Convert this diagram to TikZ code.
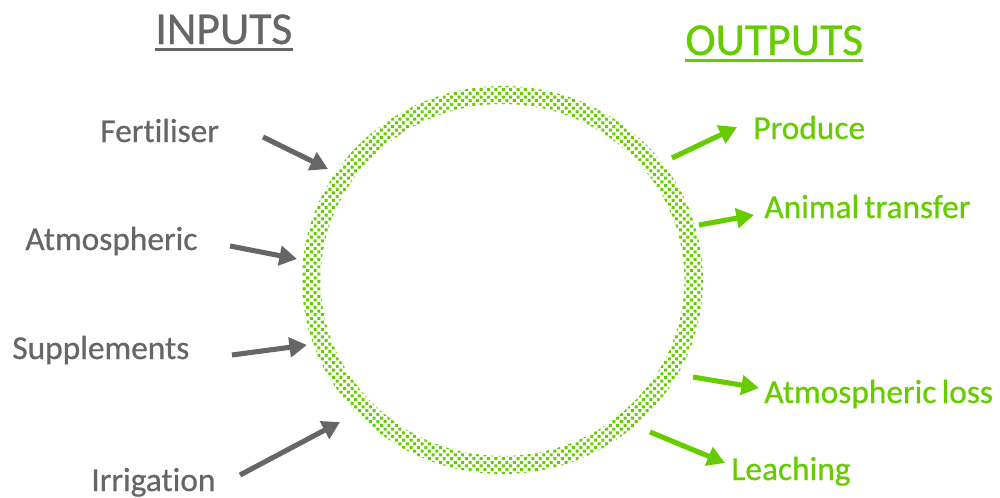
\documentclass[tikz,border=0pt]{standalone}
\usepackage{fontspec}
\setmainfont{Carlito}[FakeBold=0.6,BoldFont=Carlito,Ligatures=NoCommon]
\usetikzlibrary{arrows.meta,patterns}
\definecolor{ingray}{HTML}{666666}
\definecolor{outgreen}{HTML}{66CC00}
\pgfdeclarepatternformonly{ringdots}{\pgfqpoint{-1pt}{-1pt}}{\pgfqpoint{5pt}{5pt}}{\pgfqpoint{4.2pt}{4.2pt}}{%
  \pgfpathrectangle{\pgfqpoint{0pt}{0pt}}{\pgfqpoint{1.7pt}{1.7pt}}%
  \pgfpathrectangle{\pgfqpoint{2.1pt}{2.1pt}}{\pgfqpoint{1.7pt}{1.7pt}}%
  \pgfusepath{fill}}
\tikzset{
  lab/.style={anchor=base west,inner sep=0pt,font=\fontsize{19}{22}\bfseries},
  inlab/.style={lab,text=ingray},
  outlab/.style={lab,text=outgreen},
  ttl/.style={anchor=base west,inner sep=0pt,font=\fontsize{26}{30}\bfseries},
  inarrow/.style={draw=ingray,line width=2.9pt,-{Triangle[length=10pt,width=11pt]}},
  outarrow/.style={draw=outgreen,line width=2.9pt,-{Triangle[length=10pt,width=11pt]}},
}
\begin{document}
\begin{tikzpicture}[x=0.02cm,y=-0.02cm]
\useasboundingbox (0,0) rectangle (1000,497);
% ring
\coordinate (c) at (502.5,280);
\fill[pattern=ringdots,pattern color=outgreen,even odd rule]
  (c) ellipse [x radius=4.01cm,y radius=3.88cm]
  (c) ellipse [x radius=3.64cm,y radius=3.52cm];
% titles
\node[ttl,text=ingray] (tin) at (155,44) {INPUTS};
\draw[ingray,line width=1.5pt] ([yshift=-3pt]tin.base west) -- ([yshift=-3pt]tin.base east);
\node[ttl,text=outgreen] (tout) at (685,55) {OUTPUTS};
\draw[outgreen,line width=1.5pt] ([yshift=-3pt]tout.base west) -- ([yshift=-3pt]tout.base east);
% inputs
\node[inlab] (fert) at (100,142) {Fertiliser};
\node[inlab] (atm) at (25,250) {Atmospheric};
\node[inlab] (supp) at (12,359) {Supplements};
\node[inlab] (irr) at (91,491) {Irrigation};
% outputs
\node[outlab] (prod) at (753,139) {Produce};
\node[outlab] (anim) at (764,218) {Animal\hspace{-0.07em} transfer};
\node[outlab] (aloss) at (764,403) {Atmospheric\hspace{-0.07em} loss};
\node[outlab] (leach) at (731,480) {Leaching};
% arrow end points
\coordinate (fertS) at (263,137); \coordinate (fertE) at (328,169);
\coordinate (atmS) at (230,246);  \coordinate (atmE) at (297,259);
\coordinate (suppS) at (232,355); \coordinate (suppE) at (307,345);
\coordinate (irrS) at (240,475);  \coordinate (irrE) at (340,422);
\coordinate (prodS) at (672,158); \coordinate (prodE) at (737,127);
\coordinate (animS) at (699,225); \coordinate (animE) at (754,215);
\coordinate (alossS) at (693,377); \coordinate (alossE) at (759,388);
\coordinate (leachS) at (650,432); \coordinate (leachE) at (725,463);
\draw[inarrow] (fertS) -- (fertE);
\draw[inarrow] (atmS) -- (atmE);
\draw[inarrow] (suppS) -- (suppE);
\draw[inarrow] (irrS) -- (irrE);
\draw[outarrow] (prodS) -- (prodE);
\draw[outarrow] (animS) -- (animE);
\draw[outarrow] (alossS) -- (alossE);
\draw[outarrow] (leachS) -- (leachE);
\end{tikzpicture}
\end{document}
